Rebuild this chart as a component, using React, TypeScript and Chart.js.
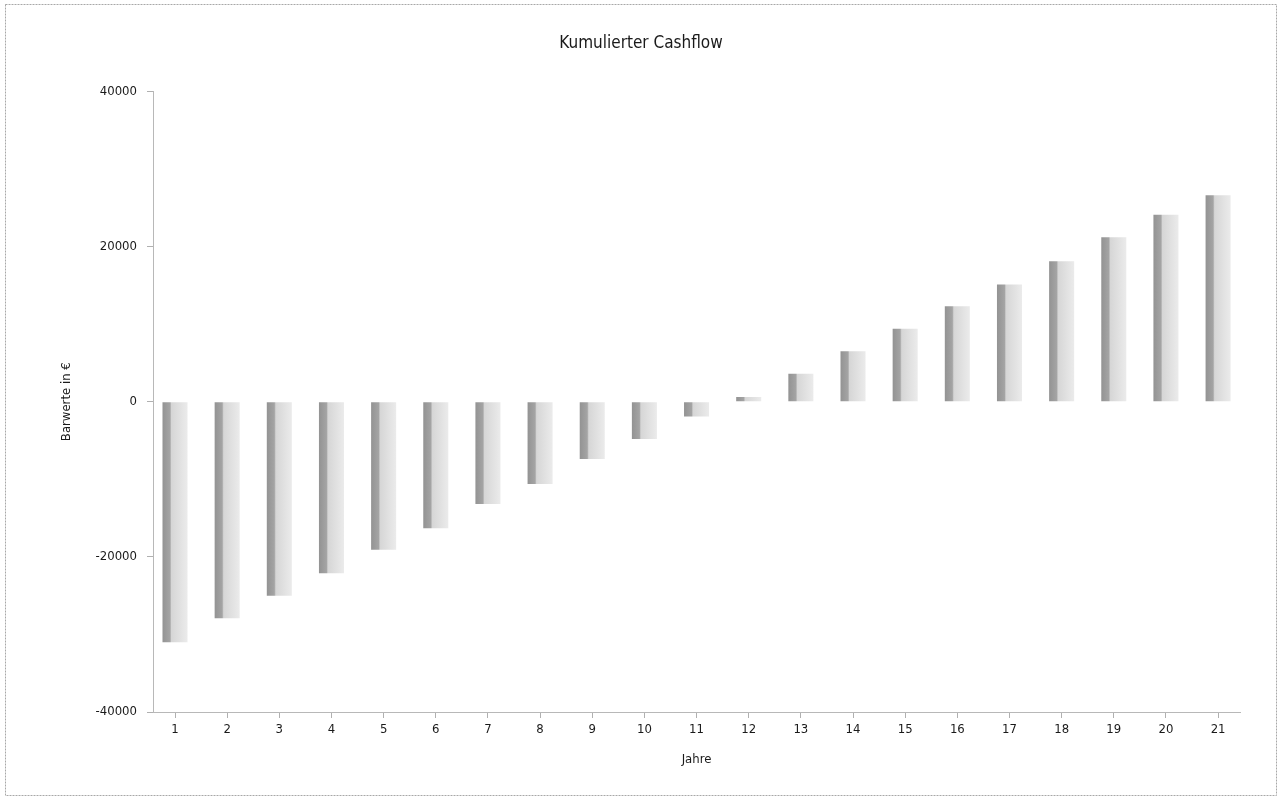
import React, { useEffect, useRef } from "react";
import { Chart, registerables } from "chart.js";

Chart.register(...registerables);

// Jahre 1..21 und kumulierte Barwerte in €
const years: number[] = [1, 2, 3, 4, 5, 6, 7, 8, 9, 10, 11, 12, 13, 14, 15, 16, 17, 18, 19, 20, 21];
const cumulativeCashflow: number[] = [
  -31000, -27900, -25000, -22100, -19100, -16300, -13200, -10600, -7400, -4800, -1900,
  600, 3600, 6500, 9400, 12300, 15100, 18100, 21200, 24100, 26600,
];
const yTicks: number[] = [-40000, -20000, 0, 20000, 40000];

const FONT = "'DejaVu Sans Condensed', 'DejaVu Sans', sans-serif";
const W = 1282;
const H = 800;

// thin dotted frame around the whole chart
const framePlugin = {
  id: "frame",
  afterDraw(chart: Chart) {
    const c = chart.ctx;
    c.save();
    c.strokeStyle = "#a8a8a8";
    c.lineWidth = 1;
    c.setLineDash([2, 1]);
    c.strokeRect(5.5, 4.5, W - 11, H - 9);
    c.restore();
  },
};

// white page background
const bgPlugin = {
  id: "bg",
  beforeDraw(chart: Chart) {
    const c = chart.ctx;
    c.save();
    c.fillStyle = "#ffffff";
    c.fillRect(0, 0, chart.width, chart.height);
    c.restore();
  },
};

export default function App() {
  const canvasRef = useRef<HTMLCanvasElement | null>(null);

  useEffect(() => {
    const canvas = canvasRef.current;
    if (!canvas) return;

    // gradient bar fill: darker strip on the left, light on the right
    const barFill = (ctx: any) => {
      const chart = ctx.chart as Chart;
      const xs: any = chart.scales && chart.scales.x;
      if (!xs || ctx.type !== "data" || !ctx.raw) return "#b5b5b5";
      const px = xs.getPixelForValue(ctx.raw.x);
      if (!isFinite(px)) return "#b5b5b5";
      const half = 12.5;
      const g = chart.ctx.createLinearGradient(px - half, 0, px + half, 0);
      g.addColorStop(0, "#939393");
      g.addColorStop(0.3, "#a4a4a4");
      g.addColorStop(0.36, "#d6d6d6");
      g.addColorStop(1, "#ebebeb");
      return g;
    };

    const chart = new Chart(canvas, {
      type: "bar",
      data: {
        datasets: [
          {
            label: "Kumulierter Cashflow",
            data: years.map((y, i) => ({ x: y, y: cumulativeCashflow[i] })),
            backgroundColor: barFill,
            borderWidth: 0,
            categoryPercentage: 0.8,
            barPercentage: 0.6,
          },
        ],
      },
      options: {
        animation: false,
        responsive: false,
        devicePixelRatio: 1,
        layout: { padding: 0 },
        plugins: {
          legend: { display: false },
          tooltip: { enabled: false },
          title: {
            display: true,
            text: "Kumulierter Cashflow",
            color: "#1a1a1a",
            font: { family: FONT, size: 17, weight: "normal" },
            padding: { top: 33, bottom: 38 },
          },
        },
        scales: {
          x: {
            type: "linear",
            min: 0.578,
            max: 21.42,
            bounds: "data",
            offset: false,
            afterBuildTicks: (axis: any) => {
              axis.ticks = years.map((v) => ({ value: v }));
            },
            afterFit: (axis: any) => {
              axis.height = 88;
            },
            grid: {
              offset: false,
              drawOnChartArea: false,
              drawTicks: true,
              tickLength: 6,
              color: "#b0b0b0",
            },
            border: { display: true, color: "#b8b8b8", dash: [1, 2] },
            ticks: {
              autoSkip: false,
              maxRotation: 0,
              padding: 4,
              color: "#1a1a1a",
              font: { family: FONT, size: 13 },
              callback: (v: any) => String(v),
            },
            title: {
              display: true,
              text: "Jahre",
              color: "#1a1a1a",
              font: { family: FONT, size: 13 },
              padding: { top: 0, bottom: 33 },
            },
          },
          y: {
            min: -40000,
            max: 40000,
            afterBuildTicks: (axis: any) => {
              axis.ticks = yTicks.map((v) => ({ value: v }));
            },
            afterFit: (axis: any) => {
              axis.width = 153;
            },
            grid: {
              drawOnChartArea: false,
              drawTicks: true,
              tickLength: 6,
              color: "#b0b0b0",
            },
            border: { display: true, color: "#b8b8b8", dash: [1, 2] },
            ticks: {
              padding: 10,
              color: "#1a1a1a",
              font: { family: FONT, size: 13 },
              callback: (v: any) => String(v),
            },
            title: {
              display: true,
              text: "Barwerte in €",
              color: "#1a1a1a",
              font: { family: FONT, size: 13 },
              padding: { top: 59, bottom: 0 },
            },
          },
          // empty right-hand margin column
          margin: {
            type: "linear",
            position: "right",
            display: true,
            min: 0,
            max: 1,
            afterBuildTicks: (axis: any) => {
              axis.ticks = [];
            },
            afterFit: (axis: any) => {
              axis.width = 42;
            },
            grid: { display: false, drawTicks: false },
            border: { display: false },
            ticks: { display: false },
          },
        },
      },
      plugins: [bgPlugin, framePlugin],
    });

    return () => {
      chart.destroy();
    };
  }, []);

  return (
    <div style={{ position: "absolute", left: 0, top: 0, width: W, height: H, background: "#fff" }}>
      <canvas ref={canvasRef} width={W} height={H} style={{ display: "block" }} />
    </div>
  );
}
